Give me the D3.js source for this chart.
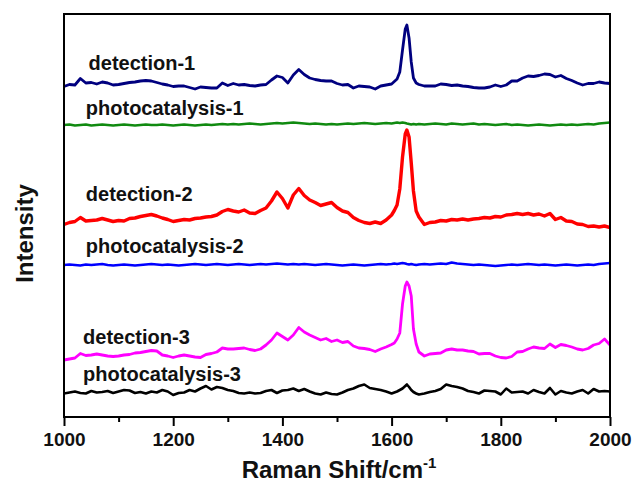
<!doctype html>
<html>
<head>
  <meta charset="utf-8">
  <title>Raman spectra</title>
  <script src="https://d3js.org/d3.v7.min.js"></script>
  <style>
    body { margin: 0; background: #fff; }
    text { font-family: 'Liberation Sans', Arial, sans-serif; font-weight: bold; }
    .tick text { font-size: 19px; }
    .label { font-size: 20px; fill: #111; }
    .title { font-size: 24px; fill: #111; }
  </style>
</head>
<body>
<svg id="chart" width="635" height="484"></svg>
<script>

  // DATA (intensity in arbitrary stacked units)

  var shift = [
    1000, 1010, 1020, 1030, 1040, 1050, 1060, 1070, 1080, 1090,
    1100, 1110, 1120, 1130, 1140, 1150, 1160, 1170, 1180, 1190,
    1200, 1210, 1220, 1230, 1240, 1250, 1260, 1270, 1280, 1290,
    1300, 1310, 1320, 1330, 1340, 1350, 1360, 1370, 1380, 1390,
    1400, 1410, 1420, 1430, 1440, 1450, 1460, 1470, 1480, 1490,
    1500, 1510, 1520, 1530, 1540, 1550, 1560, 1570, 1580, 1590,
    1600, 1605, 1610, 1615, 1620, 1625, 1628, 1632, 1636, 1640,
    1645, 1650, 1660, 1670, 1680, 1690, 1700, 1710, 1720, 1730,
    1740, 1750, 1760, 1770, 1780, 1790, 1800, 1810, 1820, 1830,
    1840, 1850, 1860, 1870, 1880, 1890, 1900, 1910, 1920, 1930,
    1940, 1950, 1960, 1970, 1980, 1990, 2000
  ];

  var detection1 = [
    330.5, 332.5, 332, 338.5, 334, 334.5, 333, 335, 334, 332,
    332.5, 333.5, 334.5, 335, 336, 336.5, 336, 334.5, 333, 332,
    330.5, 331, 331, 329.5, 328, 330, 329.5, 329, 329, 334,
    331.5, 333.5, 332, 332.5, 331.5, 331, 332, 332.5, 337, 341,
    339.5, 334, 342, 347.5, 342.5, 339, 337.5, 336.5, 336, 336,
    333.5, 332, 332.5, 329, 331, 330.5, 330, 328, 331, 332,
    333, 335.5, 338, 345, 367, 388, 392, 379, 355, 339,
    334, 332.5, 331, 331, 331, 333, 332.5, 331.5, 332, 331,
    330.5, 329.5, 329, 329, 330, 332, 330.5, 332, 336, 336,
    339, 341, 340.5, 341.5, 343, 342.5, 340, 341.5, 338.5, 336.5,
    334, 332, 333.5, 333.5, 335, 334, 333.5
  ];

  var photocatalysis1 = [
    292, 292.5, 291.5, 292, 292.5, 291.5, 292, 292.5, 292, 291.5,
    292, 292.5, 292, 291.5, 292, 292.5, 292, 292, 292.5, 292,
    291.5, 292, 292.5, 292, 291.5, 292, 292.5, 292, 292.5, 293,
    292.5, 293, 292.5, 293, 293.5, 293, 292.5, 293, 293.5, 294,
    293.5, 294, 294.5, 294, 293.5, 293, 293.5, 293, 292.5, 293,
    292.5, 293, 293.5, 293, 293.5, 294, 293.5, 293, 293.5, 294,
    293.5, 294, 294.5, 294, 294.5, 294, 293.5, 293, 292.5, 293,
    292.5, 293, 292.5, 293, 293.5, 293, 292.5, 293.5, 293, 292.5,
    293, 293.5, 292.5, 293, 292.5, 292, 292.5, 293, 292, 292.5,
    292, 291.5, 292, 292.5, 292, 291.5, 292, 292.5, 292, 292.5,
    292, 292.5, 293, 292.5, 293.5, 294, 294.5
  ];

  var detection2 = [
    192.5, 194.5, 195.5, 199.5, 196, 196.5, 197, 198.5, 197, 195.5,
    196.5, 196, 198.5, 199, 200.5, 201.5, 202.5, 201, 199, 197.5,
    195.5, 196.5, 197.5, 197, 198.5, 199, 200, 200.5, 202, 205.5,
    207.5, 206, 205, 207, 204, 203.5, 206.5, 209, 216, 225,
    218.5, 209, 222, 228.5, 221.5, 217, 214.5, 211.5, 213, 214.5,
    209.5, 206, 204.5, 199.5, 196.5, 194.5, 193.5, 195, 193.5, 197,
    202, 206.5, 212, 228, 260, 283, 287, 280, 254, 226,
    206, 200, 192.5, 194.5, 195, 196.5, 196, 197.5, 197, 198,
    197, 198, 198.5, 199.5, 199, 200.5, 200, 202, 202.5, 203.5,
    202.5, 203.5, 202, 203, 201, 203.5, 197.5, 199.5, 196, 195.5,
    193, 192.5, 190.5, 191, 190, 191, 189.5
  ];

  var photocatalysis2 = [
    152, 152.5, 152, 151.5, 152.5, 152, 152.5, 153, 152, 151.5,
    152, 152.5, 152, 151.5, 152, 152.5, 153, 152.5, 152, 152.5,
    152, 151.5, 152, 152.5, 153, 152.5, 152, 152.5, 153, 152.5,
    152, 152.5, 153, 152.5, 152, 152.5, 153, 152.5, 153, 153.5,
    153, 152.5, 153, 152.5, 153, 152.5, 152, 152.5, 153, 152.5,
    152, 151.5, 152, 152.5, 152, 151.5, 152, 152.5, 153, 152.5,
    153, 153.5, 153, 153.5, 154, 153.5, 153, 152.5, 153, 152.5,
    152, 152.5, 153, 152.5, 153, 153.5, 153, 154.5, 153.5, 153,
    152.5, 152, 152.5, 152, 151.5, 151, 151.5, 152, 152.5, 152,
    152.5, 153, 152.5, 152, 152.5, 152, 151.5, 152, 152.5, 152,
    151.5, 152, 152.5, 152, 153, 153.5, 154
  ];

  var detection3 = [
    57, 58, 59, 63.5, 61.5, 62, 63, 62, 61, 60.5,
    61, 62, 62.5, 64, 64.5, 65.5, 66.5, 66, 62, 61,
    59.5, 61, 62, 61, 60, 59.5, 62.5, 63.5, 65, 69,
    68, 68, 68.5, 69, 67.5, 66.5, 68, 72, 77, 84,
    80.5, 77, 82, 89.5, 85, 82, 79.5, 77, 78.5, 75.5,
    77, 74.5, 75.5, 71, 69, 68.5, 67.5, 65.5, 68, 70,
    72.5, 74, 78, 84, 113, 131, 135, 131, 121, 88,
    73, 65, 61, 63, 63.5, 64, 67, 68, 67, 67,
    66, 65.5, 63, 63.5, 63.5, 61, 59.5, 59, 60.5, 65,
    65.5, 68, 70, 69, 68.5, 73, 69.5, 72.5, 71.5, 70,
    68, 67, 68.5, 72, 73.5, 78, 72
  ];

  var photocatalysis3 = [
    23.5, 24.5, 25.5, 24, 23.5, 26, 24.5, 25, 26, 24,
    25.5, 27, 26.5, 24, 25, 23.5, 25.5, 24.5, 27, 25.5,
    22, 24, 24.5, 27, 25.5, 28.5, 31, 27.5, 30, 29,
    27, 26, 24, 23.5, 24.5, 23.5, 24, 26, 27, 24,
    26.5, 27, 28.5, 26, 28, 25.5, 23.5, 22.5, 24.5, 23,
    22.5, 24.5, 27, 28.5, 31, 32.5, 29, 28, 27, 25.5,
    23.5, 24.5, 25.5, 27, 28.5, 31, 32.5, 30, 27, 25,
    23.5, 22.5, 23.5, 25, 26, 28, 32.5, 31, 30, 28.5,
    26, 25, 23.5, 26.5, 26, 25.5, 22.5, 28.5, 24.5, 25,
    25.5, 23.5, 27, 25, 23.5, 29, 22.5, 26, 24.5, 23.5,
    25.5, 27, 23.5, 28, 25.5, 26, 25.5
  ];

  var seriesNames = ["detection-1", "photocatalysis-1", "detection-2",
                     "photocatalysis-2", "detection-3", "photocatalysis-3"];
  var seriesValues = [detection1, photocatalysis1, detection2,
                      photocatalysis2, detection3, photocatalysis3];

  var majorTicks = [1000, 1200, 1400, 1600, 1800, 2000];
  var minorTicks = [1100, 1300, 1500, 1700, 1900];

  // STYLE

  var colors = ["#00007f", "#108a10", "#ff0000", "#0000ff", "#ff00ff", "#000000"];
  var widths = [2.8, 2.4, 3.4, 2.4, 2.8, 2.6];
  // label anchors in data units (wavenumber, intensity)
  var labelAt = [[1045, 347], [1040, 302], [1040, 216], [1040, 164], [1035, 73], [1035, 36]];

  var margin = {top: 14, right: 25, bottom: 67, left: 64},
      width = 635 - margin.left - margin.right,
      height = 484 - margin.top - margin.bottom;

  var svg = d3.select("#chart")
    .append("g")
    .attr("transform", "translate(" + margin.left + "," + margin.top + ")");

  var x = d3.scaleLinear().domain([1000, 2000]).range([0, width]);
  var y = d3.scaleLinear().domain([0, 403]).range([height, 0]);

  svg.append("clipPath").attr("id", "clip")
    .append("rect").attr("width", width).attr("height", height);

  // SPECTRA
  var line = d3.line()
    .x(function (d, i) { return x(shift[i]); })
    .y(function (d) { return y(d); });

  svg.append("g").attr("clip-path", "url(#clip)")
    .selectAll("path")
    .data(seriesValues)
    .enter()
    .append("path")
    .attr("d", line)
    .attr("fill", "none")
    .attr("stroke", function (d, i) { return colors[i]; })
    .attr("stroke-width", function (d, i) { return widths[i]; })
    .attr("stroke-linejoin", "round");

  // LABELS
  svg.selectAll(".label")
    .data(seriesNames)
    .enter()
    .append("text")
    .attr("class", "label")
    .attr("x", function (d, i) { return x(labelAt[i][0]); })
    .attr("y", function (d, i) { return y(labelAt[i][1]); })
    .text(function (d) { return d; });

  // AXES
  var xAxis = svg.append("g")
    .attr("transform", "translate(0," + height + ")")
    .call(d3.axisBottom(x).tickValues(majorTicks).tickFormat(d3.format("d"))
      .tickSize(9).tickSizeOuter(0).tickPadding(7));
  xAxis.select(".domain").remove();
  xAxis.selectAll("line").attr("stroke-width", 2);
  xAxis.selectAll("text").attr("fill", "#111");

  var xMinor = svg.append("g")
    .attr("transform", "translate(0," + height + ")")
    .call(d3.axisBottom(x).tickValues(minorTicks).tickFormat("").tickSize(5).tickSizeOuter(0));
  xMinor.select(".domain").remove();
  xMinor.selectAll("line").attr("stroke-width", 2);

  // frame
  svg.append("rect")
    .attr("width", width).attr("height", height)
    .attr("fill", "none").attr("stroke", "#000").attr("stroke-width", 2);

  // TITLES
  var xt = svg.append("text")
    .attr("class", "title")
    .attr("x", width / 2 + 2)
    .attr("y", height + 61)
    .attr("text-anchor", "middle");
  xt.append("tspan").text("Raman Shift/cm");
  xt.append("tspan").attr("font-size", "15px").attr("dy", "-10").text("-1");

  svg.append("text")
    .attr("class", "title")
    .attr("transform", "translate(" + (-31) + "," + (height / 2 + 18) + ") rotate(-90)")
    .attr("text-anchor", "middle")
    .text("Intensity");

</script>
</body>
</html>
